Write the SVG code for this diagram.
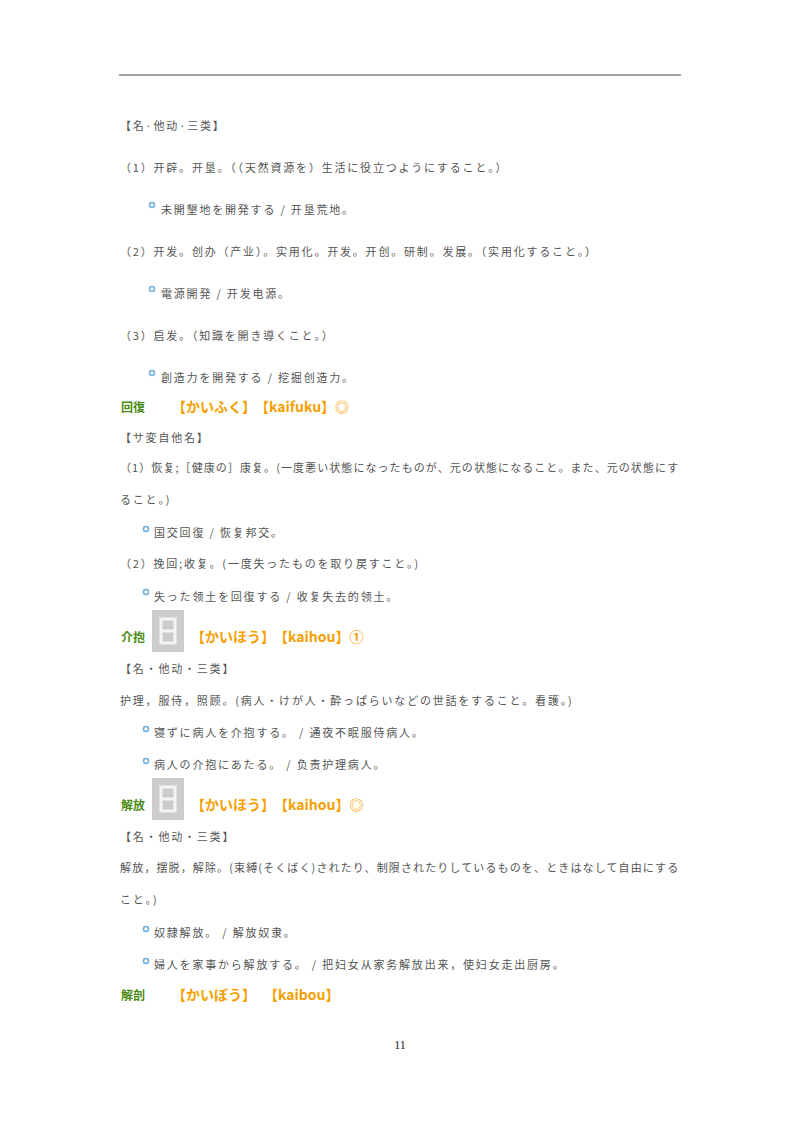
<svg xmlns="http://www.w3.org/2000/svg" width="800" height="1132" viewBox="0 0 800 1132">
<style>
text{font-family:"Noto Sans CJK JP","Noto Sans CJK SC",sans-serif}
.t{font-size:11px;fill:#555;letter-spacing:1.8px}
.g{font-size:12px;fill:#4a8a10;font-weight:bold}
.o{font-size:14px;fill:#f5a000;font-weight:bold}
.b{fill:none;stroke:#6aaee0;stroke-width:1.5}
.pn{font-family:"Liberation Serif",serif;font-size:12px;fill:#222}
</style>
<rect width="800" height="1132" fill="#fff"/>
<line x1="119" y1="75" x2="681" y2="75" stroke="#444" stroke-width="1"/>
<defs>
<g id="ic"><rect x="0" y="0" width="32" height="42" fill="#ccc"/><rect x="9" y="9" width="14" height="24" fill="none" stroke="#f4f4f4" stroke-width="3"/><rect x="9" y="19.5" width="14" height="3" fill="#f4f4f4"/></g>
</defs>
<text class="t" x="120" y="130">【名·他动·三类】</text>
<text class="t" x="120" y="172">（1）开辟。开垦。（（天然資源を）生活に役立つようにすること。）</text>
<circle class="b" cx="152" cy="205" r="2.5"/>
<text class="t" x="161" y="214">未開墾地を開発する / 开垦荒地。</text>
<text class="t" x="120" y="256">（2）开发。创办（产业）。实用化。开发。开创。研制。发展。（实用化すること。）</text>
<circle class="b" cx="152" cy="289" r="2.5"/>
<text class="t" x="161" y="298">電源開発 / 开发电源。</text>
<text class="t" x="120" y="340">（3）启发。（知識を開き導くこと。）</text>
<circle class="b" cx="152" cy="373" r="2.5"/>
<text class="t" x="161" y="382">創造力を開発する / 挖掘创造力。</text>

<text class="g" x="121" y="412">回復</text>
<text class="o" x="172" y="412">【かいふく】</text>
<text class="o" x="255" y="412">【kaifuku】◎</text>
<text class="t" x="120" y="442">【サ変自他名】</text>
<text class="t" x="120" y="472" textLength="560">（1）恢复;［健康の］康复。(一度悪い状態になったものが、元の状態になること。また、元の状態にす</text>
<text class="t" x="120" y="504">ること。)</text>
<circle class="b" cx="146" cy="529" r="2.5"/>
<text class="t" x="154" y="537">国交回復 / 恢复邦交。</text>
<text class="t" x="120" y="568">（2）挽回;收复。(一度失ったものを取り戻すこと。)</text>
<circle class="b" cx="146" cy="592" r="2.5"/>
<text class="t" x="154" y="601">失った领土を回復する / 收复失去的领土。</text>

<use href="#ic" x="152" y="610"/>
<text class="g" x="121" y="642">介抱</text>
<text class="o" x="191" y="642">【かいほう】</text>
<text class="o" x="274" y="642">【kaihou】①</text>
<text class="t" x="120" y="673">【名・他动・三类】</text>
<text class="t" x="120" y="705">护理，服侍，照顾。(病人・けが人・酔っぱらいなどの世話をすること。看護。)</text>
<circle class="b" cx="146" cy="729" r="2.5"/>
<text class="t" x="154" y="737">寝ずに病人を介抱する。 / 通夜不眠服侍病人。</text>
<circle class="b" cx="146" cy="761" r="2.5"/>
<text class="t" x="154" y="769">病人の介抱にあたる。 / 负责护理病人。</text>

<use href="#ic" x="152" y="778"/>
<text class="g" x="121" y="810">解放</text>
<text class="o" x="191" y="810">【かいほう】</text>
<text class="o" x="274" y="810">【kaihou】◎</text>
<text class="t" x="120" y="841">【名・他动・三类】</text>
<text class="t" x="120" y="872" textLength="560">解放，摆脱，解除。(束縛(そくばく)されたり、制限されたりしているものを、ときはなして自由にする</text>
<text class="t" x="120" y="904">こと。)</text>
<circle class="b" cx="146" cy="929" r="2.5"/>
<text class="t" x="154" y="937">奴隷解放。 / 解放奴隶。</text>
<circle class="b" cx="146" cy="961" r="2.5"/>
<text class="t" x="154" y="969">婦人を家事から解放する。 / 把妇女从家务解放出来，使妇女走出厨房。</text>

<text class="g" x="121" y="1000">解剖</text>
<text class="o" x="172" y="1000">【かいぼう】</text>
<text class="o" x="264" y="1000">【kaibou】</text>
<text class="pn" x="400" y="1049" text-anchor="middle">11</text>
</svg>
